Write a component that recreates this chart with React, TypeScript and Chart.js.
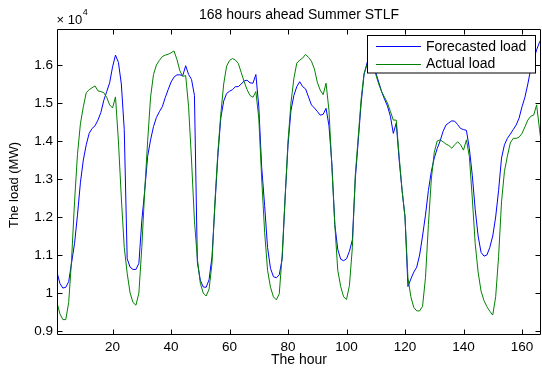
import React, { useEffect, useRef } from 'react';
import { Chart, registerables } from 'chart.js';

Chart.register(...registerables);

// Hours 1..168
const hours: number[] = Array.from({ length: 168 }, (_, i) => i + 1);

// Forecasted load (MW)
const forecastLoad: number[] = [
  10550, 10250, 10130, 10150, 10300, 10800, 11300, 12050, 12900, 13500,
  13900, 14200, 14330, 14400, 14550, 14750, 15070, 15300, 15530, 15950,
  16260, 16070, 15500, 14300, 10900, 10680, 10620, 10620, 10780, 11900,
  12700, 13600, 14030, 14380, 14620, 14770, 14900, 15140, 15350, 15550,
  15680, 15740, 15740, 15720, 15980, 15750, 15620, 15200, 10800, 10340,
  10160, 10150, 10350, 10950, 12300, 13600, 14600, 15050, 15250, 15310,
  15350, 15430, 15430, 15500, 15580, 15600, 15530, 15520, 15750, 14900,
  13300, 12300, 11200, 10650, 10430, 10400, 10480, 10900, 12500, 13900,
  14800, 15200, 15430, 15560, 15430, 15370, 15160, 14950, 14870, 14780,
  14680, 14700, 14860, 14400, 13400, 11800, 11150, 10890, 10850, 10900,
  11100, 11400, 13000, 14000, 15000, 15750, 16050, 16300, 16100, 15800,
  15550, 15300, 15100, 14920, 14650, 14200, 14470, 13500, 12700, 12000,
  10170, 10370, 10550, 10680, 11000, 11500, 12050, 12700, 13200, 13550,
  13800, 14000, 14250, 14420, 14480, 14530, 14520, 14430, 14330, 14300,
  14280, 13800, 13100, 12200, 11500, 11070, 10970, 11000, 11200, 11500,
  12000, 12700, 13550, 13900, 14070, 14180, 14300, 14420, 14600, 14900,
  15150, 15500, 15900, 16130, 16400, 16600, 16750, 16900,
];

// Actual load (MW)
const actualLoad: number[] = [
  9750, 9450, 9300, 9300, 9750, 10900, 12400, 13650, 14450, 14900,
  15270, 15350, 15400, 15450, 15320, 15300, 15270, 15150, 14950, 14870,
  15160, 14000, 12500, 11200, 10520, 10000, 9750, 9680, 10000, 11200,
  12700, 14000, 15160, 15750, 16000, 16120, 16220, 16260, 16280, 16320,
  16370, 16150, 15850, 15700, 15720, 14900, 13500, 11900, 10900, 10260,
  10000, 9920, 10100, 10780, 12400, 13700, 14700, 15500, 15970, 16120,
  16170, 16130, 16040, 15800, 15560, 15350, 15200, 15150, 15300, 14600,
  13000, 11600, 10600, 10150, 9900, 9820, 9980, 11000, 12500, 14000,
  15000, 15650, 16050, 16130, 16180, 16280, 16200, 16100, 15900, 15550,
  15340, 15220, 15520, 14800, 13300, 11800, 10600, 10170, 9900, 9830,
  10200, 11200, 13100, 14100, 15100, 15780, 16000, 16150, 15950, 15750,
  15500, 15300, 15150, 15000, 14780, 14550, 14550, 13600, 12700, 12000,
  10400, 9900, 9620, 9530, 9530, 9650, 10400, 11800, 13000, 13700,
  14000, 14030, 13980, 13920, 13880, 13810, 13900, 13980, 13900, 13760,
  14030, 13590, 12500, 11300, 10550, 10050, 9800, 9640, 9520, 9420,
  9900, 10960, 12400, 13200, 13600, 13950, 14070, 14070, 14100, 14200,
  14370, 14550, 14650, 14680, 14950, 14300, 13700, 13600,
];

const xTickValues: number[] = [20, 40, 60, 80, 100, 120, 140, 160];
const yTickValues: number[] = [9000, 10000, 11000, 12000, 13000, 14000, 15000, 16000];

const seriesNames: string[] = ['Forecasted load', 'Actual load'];
const seriesColors: string[] = ['#0000ff', '#008000'];

const chartTitle = '168 hours ahead Summer STLF';
const xTitle = 'The hour';
const yTitle = 'The load (MW)';

const FONT = '"Liberation Sans", Arial, Helvetica, sans-serif';

const matlabPlugin = {
  id: 'matlabDecor',
  afterDatasetsDraw(chart: any) {
    const { ctx, chartArea: a, scales } = chart;
    const xs = scales.x;
    const ys = scales.y;
    ctx.save();
    // frame
    ctx.strokeStyle = '#000';
    ctx.lineWidth = 1;
    const L = Math.round(a.left) + 0.5;
    const R = Math.round(a.right) - 0.5;
    const T = Math.round(a.top) + 0.5;
    const B = Math.round(a.bottom) - 0.5;
    ctx.beginPath();
    ctx.rect(L, T, R - L, B - T);
    ctx.stroke();
    // ticks (inward)
    const tl = 5;
    ctx.beginPath();
    xTickValues.forEach((v) => {
      const px = Math.round(xs.getPixelForValue(v)) + 0.5;
      ctx.moveTo(px, B);
      ctx.lineTo(px, B - tl);
      ctx.moveTo(px, T);
      ctx.lineTo(px, T + tl);
    });
    yTickValues.forEach((v) => {
      const py = Math.round(ys.getPixelForValue(v)) + 0.5;
      ctx.moveTo(L, py);
      ctx.lineTo(L + tl, py);
      ctx.moveTo(R, py);
      ctx.lineTo(R - tl, py);
    });
    ctx.stroke();

    // legend box
    const lx = 367.5, ly = 35.5, lw = 168, lh = 37.5;
    ctx.fillStyle = '#fff';
    ctx.fillRect(lx, ly, lw, lh);
    ctx.strokeStyle = '#000';
    ctx.strokeRect(lx, ly, lw, lh);
    const rows = [46, 63.5];
    ctx.font = `14px ${FONT}`;
    ctx.textAlign = 'left';
    ctx.textBaseline = 'middle';
    seriesNames.forEach((name, i) => {
      ctx.strokeStyle = seriesColors[i];
      ctx.lineWidth = 1;
      ctx.beginPath();
      ctx.moveTo(376, Math.round(rows[i]) + 0.5);
      ctx.lineTo(421, Math.round(rows[i]) + 0.5);
      ctx.stroke();
      ctx.fillStyle = '#000';
      ctx.fillText(name, 426, rows[i] + 1);
    });

    // titles
    ctx.fillStyle = '#000';
    ctx.font = `14px ${FONT}`;
    ctx.textAlign = 'center';
    ctx.textBaseline = 'middle';
    ctx.fillText(chartTitle, (a.left + a.right) / 2, 15);
    ctx.fillText(xTitle, (a.left + a.right) / 2, 360);

    ctx.save();
    ctx.translate(14.5, (a.top + a.bottom) / 2 + 3);
    ctx.rotate(-Math.PI / 2);
    ctx.font = `13px ${FONT}`;
    ctx.fillText(yTitle, 0, 0);
    ctx.restore();

    // exponent label
    ctx.textAlign = 'left';
    ctx.font = `13px ${FONT}`;
    ctx.fillText('\u00d7 10', 56.5, 20);
    const w = ctx.measureText('\u00d7 10').width;
    ctx.font = `9px ${FONT}`;
    ctx.fillText('4', 56.5 + w + 0.5, 13);

    ctx.restore();
  },
};

export default function App() {
  const canvasRef = useRef<HTMLCanvasElement | null>(null);

  useEffect(() => {
    if (!canvasRef.current) return;
    const chart = new Chart(canvasRef.current, {
      type: 'line',
      data: {
        datasets: [
          {
            label: seriesNames[0],
            data: forecastLoad.map((v, i) => ({ x: hours[i], y: v })),
            borderColor: seriesColors[0],
            backgroundColor: seriesColors[0],
            borderWidth: 1,
            pointRadius: 0,
            tension: 0,
            fill: false,
            order: 1,
          },
          {
            label: seriesNames[1],
            data: actualLoad.map((v, i) => ({ x: hours[i], y: v })),
            borderColor: seriesColors[1],
            backgroundColor: seriesColors[1],
            borderWidth: 1,
            pointRadius: 0,
            tension: 0,
            fill: false,
            order: 0,
          },
        ],
      },
      options: {
        animation: false,
        responsive: false,
        devicePixelRatio: 1,
        layout: { padding: { left: 0, right: 1, top: 29, bottom: 0 } },
        plugins: {
          legend: { display: false },
          title: { display: false },
          tooltip: { enabled: false },
        },
        events: [],
        scales: {
          x: {
            type: 'linear',
            min: 1,
            max: 166.5,
            grid: { display: false, drawTicks: false },
            border: { display: false },
            afterBuildTicks: (scale: any) => {
              scale.ticks = xTickValues.map((v) => ({ value: v }));
            },
            afterFit: (scale: any) => {
              scale.height = 33;
            },
            ticks: {
              autoSkip: false,
              maxRotation: 0,
              padding: 4,
              color: '#000',
              font: { family: FONT, size: 13.5 },
              callback: (v: any) => String(v),
            },
          },
          y: {
            type: 'linear',
            min: 8895,
            max: 16947,
            grid: { display: false, drawTicks: false },
            border: { display: false },
            afterBuildTicks: (scale: any) => {
              scale.ticks = yTickValues.map((v) => ({ value: v }));
            },
            afterFit: (scale: any) => {
              scale.width = 57;
            },
            ticks: {
              autoSkip: false,
              padding: 4,
              color: '#000',
              font: { family: FONT, size: 13.5 },
              callback: (v: any) => String(Number(v) / 10000),
            },
          },
        },
      },
      plugins: [matlabPlugin],
    });
    return () => chart.destroy();
  }, []);

  return (
    <div style={{ position: 'fixed', left: 0, top: 0, width: 542, height: 368, background: '#fff' }}>
      <canvas ref={canvasRef} width={542} height={368} style={{ width: 542, height: 368, display: 'block' }} />
    </div>
  );
}
